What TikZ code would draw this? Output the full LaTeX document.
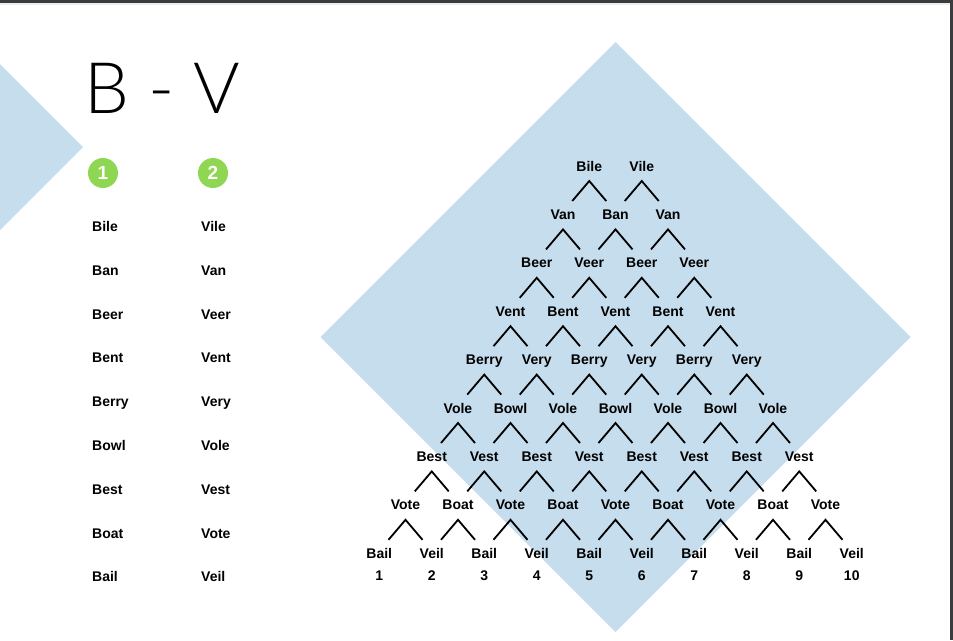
\documentclass[tikz,border=0pt]{standalone}
\usepackage{fontspec}
\setmainfont{Liberation Sans}
\newfontfamily\thinfont{Lato Light}
\definecolor{pale}{RGB}{197,221,236}
\definecolor{leaf}{RGB}{143,214,82}
\definecolor{frame}{RGB}{58,61,64}
\tikzset{
  word/.style={font=\bfseries\fontsize{14}{14}\selectfont, inner sep=0pt, anchor=base},
  numdot/.style={circle, fill=leaf, minimum size=30pt, inner sep=0pt, text=white, font=\bfseries\fontsize{19}{19}\selectfont},
  caretline/.style={line width=1.8pt, line cap=butt, line join=miter}
}
\begin{document}
\begin{tikzpicture}[x=1pt,y=-1pt]
\useasboundingbox (0,0) rectangle (953,640);
% background shapes
\fill[pale] (615.5,42) -- (910.5,337) -- (615.5,632) -- (320.5,337) -- cycle;
\fill[pale] (0,64) -- (83,147) -- (0,230) -- cycle;
\fill[black!7] (0,3) rectangle (950,5);
\fill[frame] (0,0) rectangle (953,3);
\fill[frame] (950,0) rectangle (953,640);
% title and list
\node[anchor=base west, inner sep=0pt, font=\thinfont\fontsize{71}{71}\selectfont] (title) at (84,113) {B - V};
\node[numdot] (c1) at (103,173) {1};
\node[numdot] (c2) at (213,173) {2};
\foreach \b/\v [count=\k] in {Bile/Vile, Ban/Van, Beer/Veer, Bent/Vent, Berry/Very, Bowl/Vole, Best/Vest, Boat/Vote, Bail/Veil}{
  \node[word, anchor=base west] (b\k) at (92,{231.5+(\k-1)*43.8}) {\b};
  \node[word, anchor=base west] (v\k) at (201,{231.5+(\k-1)*43.8}) {\v};
}
% pyramid
\foreach \row/\words in {1/{Bile,Vile}, 2/{Van,Ban,Van}, 3/{Beer,Veer,Beer,Veer},
    4/{Vent,Bent,Vent,Bent,Vent}, 5/{Berry,Very,Berry,Very,Berry,Very},
    6/{Vole,Bowl,Vole,Bowl,Vole,Bowl,Vole}, 7/{Best,Vest,Best,Vest,Best,Vest,Best,Vest},
    8/{Vote,Boat,Vote,Boat,Vote,Boat,Vote,Boat,Vote},
    9/{Bail,Veil,Bail,Veil,Bail,Veil,Bail,Veil,Bail,Veil}}{
  \foreach \w [count=\i] in \words
    \node[word] (w\row-\i) at ({615.5+(\i-1-\row/2)*52.5},{171+(\row-1)*48.4}) {\w};
}
\foreach \i in {1,...,10}
  \node[word] (n\i) at ({615.5+(\i-1-4.5)*52.5},580) {\i};
% carets
\foreach \row in {1,...,8}{
  \pgfmathtruncatemacro\n{\row+1}
  \foreach \i in {1,...,\n}
    \draw[caretline] ([shift={(-17pt,-30pt)}]w\row-\i.base) -- ([yshift=-10pt]w\row-\i.base) -- ([shift={(17pt,-30pt)}]w\row-\i.base);
}
\end{tikzpicture}
\end{document}
